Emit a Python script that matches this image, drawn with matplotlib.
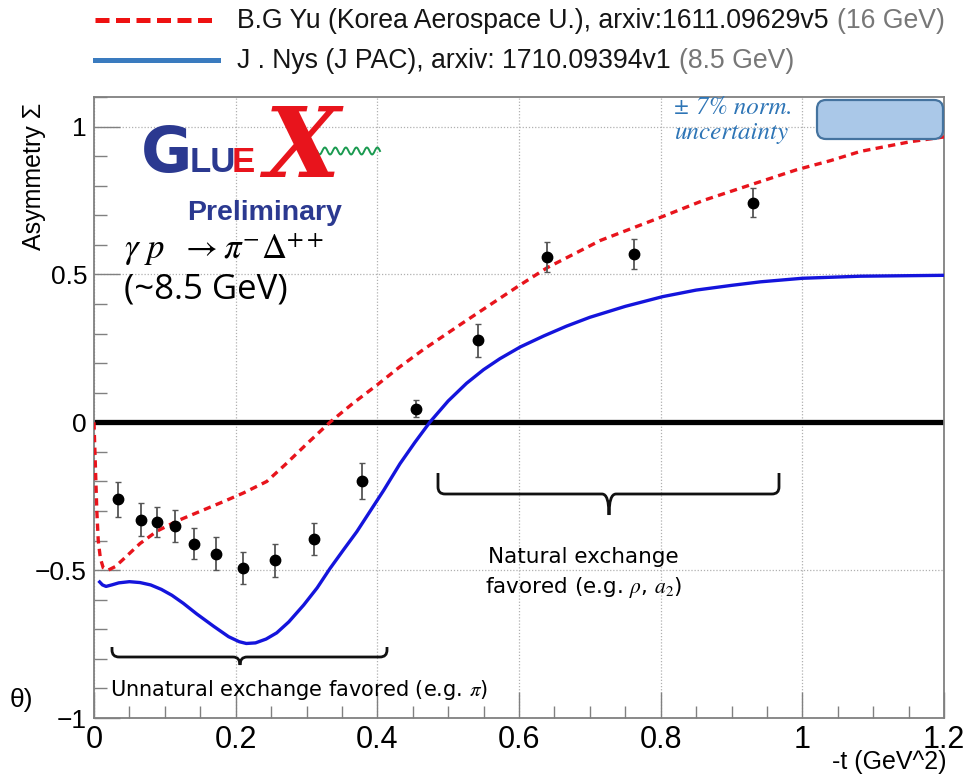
import numpy as np
import matplotlib.pyplot as plt
from matplotlib.path import Path
from matplotlib.patches import PathPatch, FancyBboxPatch
from matplotlib.lines import Line2D

plt.rcParams['mathtext.fontset'] = 'stix'
plt.rcParams['font.family'] = ['Liberation Sans', 'DejaVu Sans']

W, H = 967, 776

# GlueX preliminary beam asymmetry, gamma p -> pi- Delta++
t_data = [0.034, 0.066, 0.089, 0.114, 0.141, 0.172, 0.210, 0.256, 0.311,
          0.379, 0.454, 0.542, 0.640, 0.762, 0.930]
sigma_data = [-0.261, -0.329, -0.338, -0.351, -0.410, -0.444, -0.492, -0.467,
              -0.396, -0.199, 0.046, 0.277, 0.559, 0.569, 0.743]
sigma_err = [0.058, 0.055, 0.050, 0.053, 0.053, 0.055, 0.054, 0.055, 0.054,
             0.062, 0.028, 0.056, 0.050, 0.051, 0.048]

# B.G. Yu model (16 GeV)
t_yu = [0.000, 0.002, 0.004, 0.006, 0.009, 0.013, 0.020, 0.030, 0.041, 0.065,
        0.089, 0.117, 0.150, 0.183, 0.211, 0.244, 0.270, 0.300, 0.333, 0.365,
        0.400, 0.432, 0.465, 0.520, 0.564, 0.600, 0.640, 0.715, 0.803, 0.860,
        0.927, 0.992, 1.040, 1.082, 1.153, 1.200]
sigma_yu = [0.000, -0.150, -0.300, -0.400, -0.460, -0.492, -0.500, -0.488,
            -0.464, -0.410, -0.368, -0.334, -0.301, -0.268, -0.239, -0.200,
            -0.143, -0.074, 0.000, 0.063, 0.127, 0.188, 0.246, 0.335, 0.405,
            0.462, 0.523, 0.615, 0.696, 0.750, 0.803, 0.854, 0.885, 0.916,
            0.949, 0.965]

# J. Nys (JPAC) model (8.5 GeV)
t_nys = [0.008, 0.012, 0.017, 0.025, 0.035, 0.050, 0.065, 0.080, 0.095, 0.110,
         0.126, 0.145, 0.169, 0.190, 0.205, 0.215, 0.228, 0.243, 0.258, 0.275,
         0.296, 0.315, 0.333, 0.352, 0.371, 0.390, 0.409, 0.432, 0.453, 0.474,
         0.500, 0.526, 0.550, 0.573, 0.602, 0.635, 0.667, 0.700, 0.750, 0.803,
         0.850, 0.900, 0.941, 1.000, 1.082, 1.200]
sigma_nys = [-0.540, -0.550, -0.555, -0.550, -0.543, -0.539, -0.542, -0.550,
             -0.565, -0.585, -0.612, -0.648, -0.690, -0.725, -0.742, -0.748,
             -0.746, -0.733, -0.712, -0.675, -0.618, -0.560, -0.495, -0.432,
             -0.370, -0.300, -0.230, -0.140, -0.068, 0.000, 0.072, 0.132,
             0.178, 0.215, 0.255, 0.292, 0.325, 0.355, 0.392, 0.425, 0.447,
             0.463, 0.475, 0.487, 0.494, 0.497]

x_ticks = [0, 0.2, 0.4, 0.6, 0.8, 1.0, 1.2]
x_tick_labels = ['0', '0.2', '0.4', '0.6', '0.8', '1', '1.2']
y_ticks = [-1, -0.5, 0, 0.5, 1]
y_tick_labels = ['\u22121', '\u22120.5', '0', '0.5', '1']

legend_rows = [('B.G Yu (Korea Aerospace U.), arxiv:1611.09629v5', '(16 GeV)'),
               ('J . Nys (J PAC), arxiv: 1710.09394v1', '(8.5 GeV)')]


def fx(px):
    return px / W


def fy(py):
    return 1 - py / H


fig = plt.figure(figsize=(W / 100, H / 100), dpi=100)
ax = fig.add_axes([fx(94), fy(718), 850 / W, 621 / H])

ax.plot(t_yu, sigma_yu, color='#e8141c', lw=2.4, dashes=(2.2, 1.6), zorder=3)
ax.plot(t_nys, sigma_nys, color='#1414dc', lw=2.4, zorder=3)
ax.axhline(0, color='black', lw=3.8, zorder=2)
ax.errorbar(t_data, sigma_data, yerr=sigma_err, fmt='o', color='black', ms=7.5,
            ecolor='#555555', elinewidth=1.3, capsize=2.5, capthick=1.0, zorder=4)

ax.set_xlim(0, 1.2)
ax.set_ylim(-1, 1.1)
ax.set_xticks(x_ticks, labels=x_tick_labels, fontsize=22)
ax.set_yticks(y_ticks, labels=y_tick_labels, fontsize=19)
ax.set_xticks(np.arange(0, 1.2001, 0.05), minor=True)
ax.set_yticks(np.arange(-1, 1.1001, 0.1), minor=True)
ax.tick_params(which='both', direction='in', color='#808080', top=False, right=False)
ax.tick_params(which='major', length=19, width=1.0, pad=5)
ax.tick_params(which='minor', length=9, width=1.0)
ax.grid(True, which='major', color='#b0b0b0', lw=0.9, linestyle=(0, (1, 1.5)))
for sp in ax.spines.values():
    sp.set_color('#808080')
    sp.set_linewidth(1.3)

fig.text(fx(34), fy(103), 'Asymmetry \u03a3', rotation=90, ha='center', va='top', fontsize=18)
fig.text(fx(946), fy(762), '-t (GeV^2)', ha='right', va='center', fontsize=18)
fig.text(fx(33), fy(700), '\u03b8)', ha='right', va='center', fontsize=19)

# legend on top: scale the font so the first row ends at the right edge
fig.add_artist(Line2D([fx(95), fx(218)], [fy(20), fy(20)], color='#ee1111', lw=3.6, dashes=(2.8, 1.3)))
fig.add_artist(Line2D([fx(95), fx(218)], [fy(60), fy(60)], color='#3a7bbf', lw=3.6))
rend = fig.canvas.get_renderer()
probe = [fig.text(0, 0, legend_rows[0][0], fontsize=20), fig.text(0, 0, legend_rows[0][1], fontsize=20)]
w_probe = sum(p.get_window_extent(rend).width for p in probe)
for p in probe:
    p.remove()
leg_size = 20 * (946 - 237 - 8) / w_probe
for (main, note), y in zip(legend_rows, [21, 61]):
    tm = fig.text(fx(237), fy(y), main, fontsize=leg_size, va='center', color='#151515')
    bb = tm.get_window_extent(rend)
    fig.text((bb.x1 + 8) / W, fy(y), note, fontsize=leg_size, va='center', color='#777777')

# GlueX logo
blue_logo = '#2b3990'
red_logo = '#e8141c'
fig.text(fx(141), fy(172), 'G', color=blue_logo, fontsize=45, fontweight='heavy',
         fontfamily='DejaVu Sans', va='baseline')
fig.text(fx(190), fy(172), 'LU', color=blue_logo, fontsize=25, fontweight='bold', va='baseline')
fig.text(fx(232), fy(172), 'E', color=red_logo, fontsize=25, fontweight='bold', va='baseline')
fig.text(fx(302), fy(150), 'X', color=red_logo, fontsize=70, fontweight='bold', style='italic',
         fontfamily='DejaVu Serif', ha='center', va='center')
wave_x = np.linspace(317, 380, 120)
wave_y = 151 + 3.5 * np.sin((wave_x - 317) / 63 * 2 * np.pi * 6)
fig.add_artist(Line2D(fx(wave_x), fy(wave_y), color='#1a9a50', lw=1.4))
fig.text(fx(187), fy(220), 'Preliminary', color=blue_logo, fontsize=20.5, fontweight='bold', va='baseline')

fig.text(fx(124), fy(249), r'$\gamma\ p\ \ \rightarrow \pi^{-}\Delta^{++}$', fontsize=25, va='center')
fig.text(fx(124), fy(289), '(~8.5 GeV)', fontfamily='Open Sans', fontsize=25, va='center')

# normalisation uncertainty
norm_color = '#2e75b6'
fig.text(fx(673), fy(108), '\u00b1 7% norm.', color=norm_color, fontfamily='STIXGeneral',
         style='italic', fontsize=18, va='center')
fig.text(fx(675), fy(133), 'uncertainty', color=norm_color, fontfamily='STIXGeneral',
         style='italic', fontsize=18, va='center')
fig.add_artist(FancyBboxPatch((fx(817), fy(139)), (943 - 817) / W, 39 / H,
                              boxstyle='round,pad=0,rounding_size=%f' % (9 / W),
                              mutation_aspect=W / H, transform=fig.transFigure,
                              fc='#aac8e8', ec='#44739f', lw=1.6))


def brace(x0, x1, xm, y_end, y_bar, y_tip, r=7):
    pts = [(x0, y_end), (x0, y_bar - r), (x0, y_bar), (x0 + r, y_bar),
           (xm - r, y_bar), (xm, y_bar), (xm, y_tip),
           (xm, y_bar), (xm + r, y_bar),
           (x1 - r, y_bar), (x1, y_bar), (x1, y_bar - r), (x1, y_end)]
    codes = [Path.MOVETO, Path.LINETO, Path.CURVE3, Path.CURVE3,
             Path.LINETO, Path.CURVE3, Path.CURVE3,
             Path.CURVE3, Path.CURVE3,
             Path.LINETO, Path.CURVE3, Path.CURVE3, Path.LINETO]
    verts = [(fx(a), fy(b)) for a, b in pts]
    fig.add_artist(PathPatch(Path(verts, codes), transform=fig.transFigure,
                             fill=False, ec='#111111', lw=2.0))


brace(112, 387, 240, 647, 657, 665)
brace(438, 779, 609, 473, 494, 515)

fig.text(fx(110), fy(690), r'Unnatural exchange favored (e.g. $\pi$)', fontfamily='DejaVu Sans',
         fontsize=15, va='center')
fig.text(fx(583), fy(557), 'Natural exchange', fontfamily='DejaVu Sans', fontsize=15.5,
         ha='center', va='center')
fig.text(fx(584), fy(588), r'favored (e.g. $\rho$, $a_2$)', fontfamily='DejaVu Sans',
         fontsize=15.5, ha='center', va='center')

fig.savefig('out.png', dpi=100)
